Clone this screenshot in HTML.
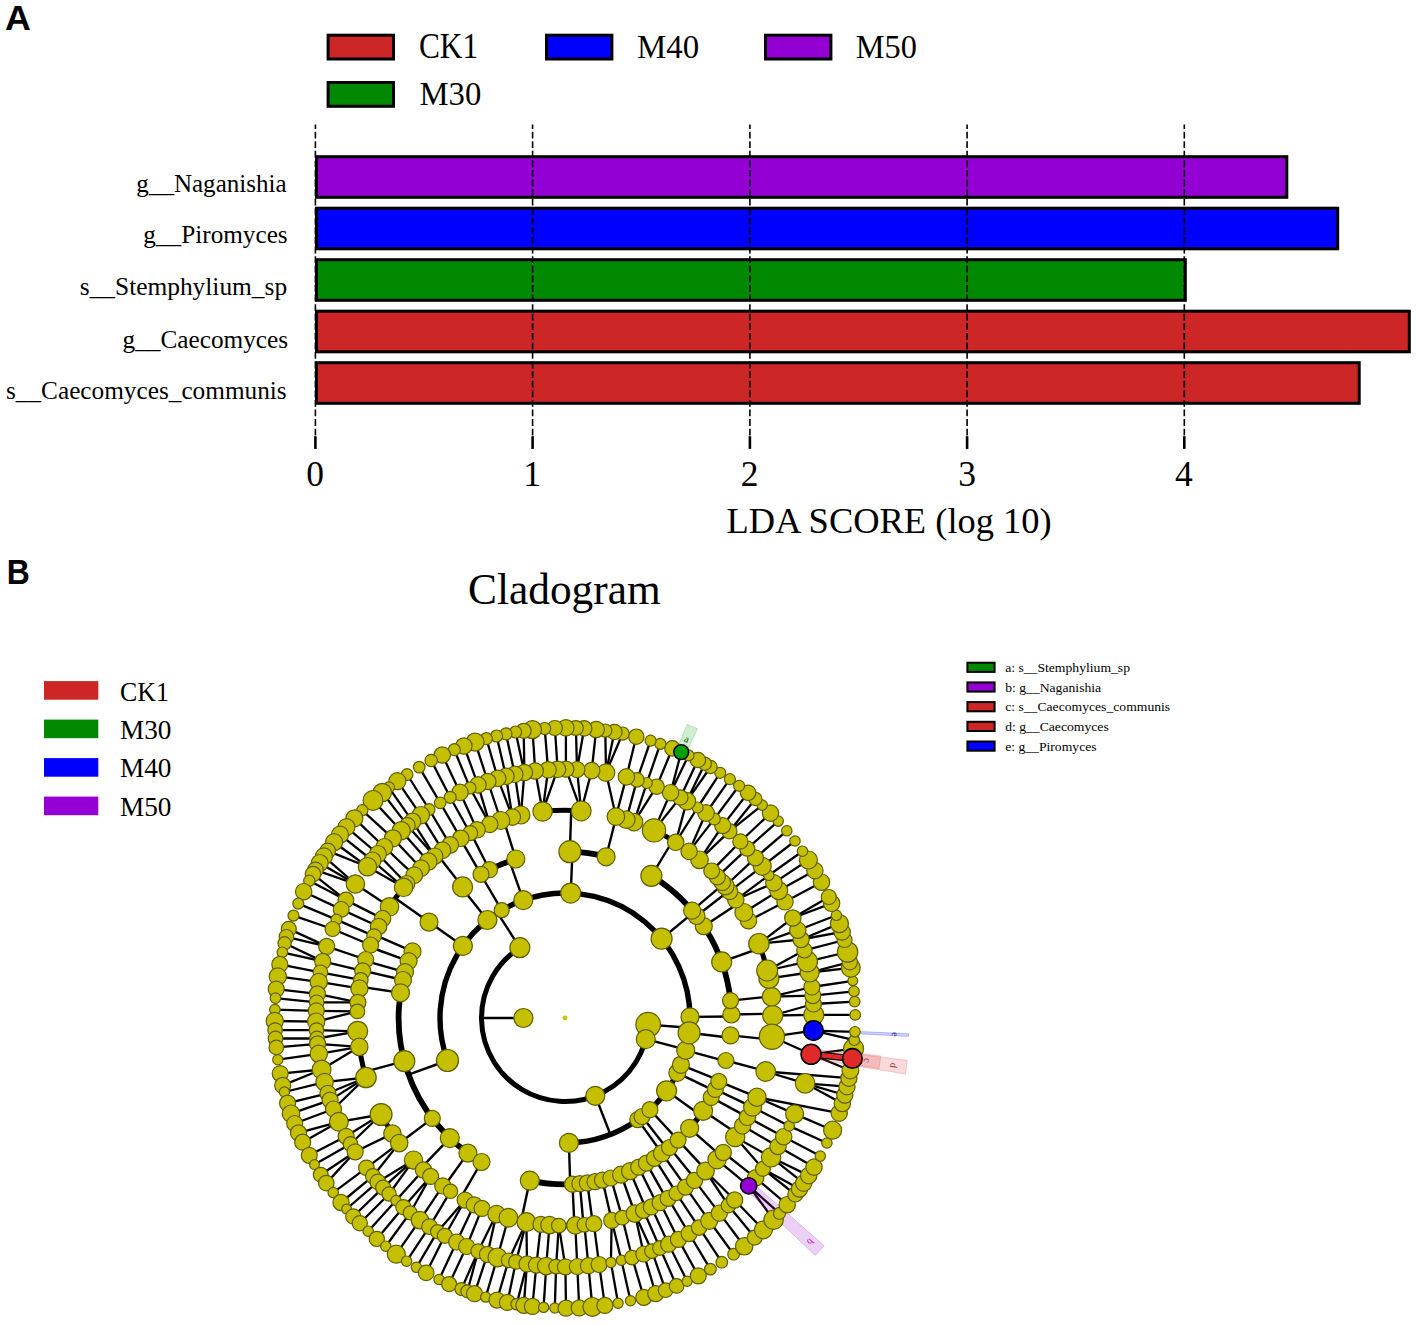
<!DOCTYPE html>
<html><head><meta charset="utf-8"><style>
html,body{margin:0;padding:0;background:#fff;}
svg{display:block;}
</style></head><body>
<svg width="1418" height="1325" viewBox="0 0 1418 1325">
<rect width="1418" height="1325" fill="#fff"/>
<rect x="328.1" y="35.2" width="65.4" height="23.8" fill="#cd2626" stroke="#000" stroke-width="3"/>
<rect x="546.5" y="35.2" width="65.4" height="23.8" fill="#0000ff" stroke="#000" stroke-width="3"/>
<rect x="765.5" y="35.2" width="65.4" height="23.8" fill="#9400d3" stroke="#000" stroke-width="3"/>
<rect x="328.1" y="82.5" width="65.4" height="23.8" fill="#008800" stroke="#000" stroke-width="3"/>
<rect x="316.5" y="156.7" width="970.3" height="40.6" fill="#9400d3" stroke="#000" stroke-width="3"/>
<rect x="316.5" y="208.2" width="1021.2" height="40.6" fill="#0000ff" stroke="#000" stroke-width="3"/>
<rect x="316.5" y="259.7" width="868.8" height="40.6" fill="#008800" stroke="#000" stroke-width="3"/>
<rect x="316.5" y="311.2" width="1092.8" height="40.6" fill="#cd2626" stroke="#000" stroke-width="3"/>
<rect x="316.5" y="362.7" width="1042.7" height="40.6" fill="#cd2626" stroke="#000" stroke-width="3"/>
<line x1="315.4" y1="124.5" x2="315.4" y2="436" stroke="#000" stroke-width="1.6" stroke-dasharray="6.8 2.78" stroke-dashoffset="2.38"/>
<line x1="315.4" y1="436.2" x2="315.4" y2="448.9" stroke="#000" stroke-width="2.6"/>
<line x1="532.6" y1="124.5" x2="532.6" y2="436" stroke="#000" stroke-width="1.6" stroke-dasharray="6.8 2.78" stroke-dashoffset="2.38"/>
<line x1="532.6" y1="436.2" x2="532.6" y2="448.9" stroke="#000" stroke-width="2.6"/>
<line x1="749.9" y1="124.5" x2="749.9" y2="436" stroke="#000" stroke-width="1.6" stroke-dasharray="6.8 2.78" stroke-dashoffset="2.38"/>
<line x1="749.9" y1="436.2" x2="749.9" y2="448.9" stroke="#000" stroke-width="2.6"/>
<line x1="967.1" y1="124.5" x2="967.1" y2="436" stroke="#000" stroke-width="1.6" stroke-dasharray="6.8 2.78" stroke-dashoffset="2.38"/>
<line x1="967.1" y1="436.2" x2="967.1" y2="448.9" stroke="#000" stroke-width="2.6"/>
<line x1="1184.3" y1="124.5" x2="1184.3" y2="436" stroke="#000" stroke-width="1.6" stroke-dasharray="6.8 2.78" stroke-dashoffset="2.38"/>
<line x1="1184.3" y1="436.2" x2="1184.3" y2="448.9" stroke="#000" stroke-width="2.6"/>
<rect x="44" y="681.1" width="54.3" height="18.6" fill="#cd2626"/>
<rect x="44" y="719.6" width="54.3" height="18.6" fill="#008800"/>
<rect x="44" y="758.1" width="54.3" height="18.6" fill="#0000ff"/>
<rect x="44" y="796.6" width="54.3" height="18.6" fill="#9400d3"/>
<rect x="967.4" y="662.7" width="27.2" height="9.2" fill="#008800" stroke="#000" stroke-width="2.0"/>
<rect x="967.4" y="682.4" width="27.2" height="9.2" fill="#9400d3" stroke="#000" stroke-width="2.0"/>
<rect x="967.4" y="702.1" width="27.2" height="9.2" fill="#cd2626" stroke="#000" stroke-width="2.0"/>
<rect x="967.4" y="721.8" width="27.2" height="9.2" fill="#cd2626" stroke="#000" stroke-width="2.0"/>
<rect x="967.4" y="741.5" width="27.2" height="9.2" fill="#0000ff" stroke="#000" stroke-width="2.0"/>
<text x="4.99" y="30.3" font-family='"Liberation Sans", sans-serif' font-weight="bold" font-size="35.5" textLength="25.86" lengthAdjust="spacingAndGlyphs">A</text>
<text x="418.96" y="58.0" font-family='"Liberation Serif", serif' font-weight="normal" font-size="34.9" textLength="59.22" lengthAdjust="spacingAndGlyphs">CK1</text>
<text x="637.05" y="58.0" font-family='"Liberation Serif", serif' font-weight="normal" font-size="34.6" textLength="62.11" lengthAdjust="spacingAndGlyphs">M40</text>
<text x="855.84" y="58.0" font-family='"Liberation Serif", serif' font-weight="normal" font-size="34.6" textLength="61.14" lengthAdjust="spacingAndGlyphs">M50</text>
<text x="419.47" y="105.1" font-family='"Liberation Serif", serif' font-weight="normal" font-size="34.6" textLength="61.80" lengthAdjust="spacingAndGlyphs">M30</text>
<text x="136.39" y="191.7" font-family='"Liberation Serif", serif' font-weight="normal" font-size="24.8" textLength="150.16" lengthAdjust="spacingAndGlyphs">g__Naganishia</text>
<text x="143.38" y="243.2" font-family='"Liberation Serif", serif' font-weight="normal" font-size="24.8" textLength="144.32" lengthAdjust="spacingAndGlyphs">g__Piromyces</text>
<text x="79.76" y="295.2" font-family='"Liberation Serif", serif' font-weight="normal" font-size="24.8" textLength="207.39" lengthAdjust="spacingAndGlyphs">s__Stemphylium_sp</text>
<text x="122.59" y="347.5" font-family='"Liberation Serif", serif' font-weight="normal" font-size="24.8" textLength="165.53" lengthAdjust="spacingAndGlyphs">g__Caecomyces</text>
<text x="5.98" y="398.9" font-family='"Liberation Serif", serif' font-weight="normal" font-size="24.8" textLength="280.70" lengthAdjust="spacingAndGlyphs">s__Caecomyces_communis</text>
<text x="306.30" y="485.7" font-family='"Liberation Serif", serif' font-weight="normal" font-size="35.5" textLength="17.75" lengthAdjust="spacingAndGlyphs">0</text>
<text x="523.20" y="485.7" font-family='"Liberation Serif", serif' font-weight="normal" font-size="35.5" textLength="17.75" lengthAdjust="spacingAndGlyphs">1</text>
<text x="740.80" y="485.7" font-family='"Liberation Serif", serif' font-weight="normal" font-size="35.5" textLength="17.75" lengthAdjust="spacingAndGlyphs">2</text>
<text x="958.20" y="485.7" font-family='"Liberation Serif", serif' font-weight="normal" font-size="35.5" textLength="17.75" lengthAdjust="spacingAndGlyphs">3</text>
<text x="1175.10" y="485.7" font-family='"Liberation Serif", serif' font-weight="normal" font-size="35.5" textLength="17.75" lengthAdjust="spacingAndGlyphs">4</text>
<text x="726.59" y="533.0" font-family='"Liberation Serif", serif' font-weight="normal" font-size="35.8" textLength="325.14" lengthAdjust="spacingAndGlyphs">LDA SCORE (log 10)</text>
<text x="6.73" y="583.5" font-family='"Liberation Sans", sans-serif' font-weight="bold" font-size="35.5" textLength="23.02" lengthAdjust="spacingAndGlyphs">B</text>
<text x="468.05" y="603.7" font-family='"Liberation Serif", serif' font-weight="normal" font-size="44.7" textLength="192.60" lengthAdjust="spacingAndGlyphs">Cladogram</text>
<text x="120.08" y="700.8" font-family='"Liberation Serif", serif' font-weight="normal" font-size="28.2" textLength="48.77" lengthAdjust="spacingAndGlyphs">CK1</text>
<text x="120.03" y="738.5" font-family='"Liberation Serif", serif' font-weight="normal" font-size="28.2" textLength="51.49" lengthAdjust="spacingAndGlyphs">M30</text>
<text x="120.03" y="777.1" font-family='"Liberation Serif", serif' font-weight="normal" font-size="28.2" textLength="51.49" lengthAdjust="spacingAndGlyphs">M40</text>
<text x="120.03" y="815.7" font-family='"Liberation Serif", serif' font-weight="normal" font-size="28.2" textLength="51.49" lengthAdjust="spacingAndGlyphs">M50</text>
<text x="1005.17" y="671.9" font-family='"Liberation Serif", serif' font-weight="normal" font-size="12.8" textLength="124.82" lengthAdjust="spacingAndGlyphs">a: s__Stemphylium_sp</text>
<text x="1005.17" y="691.6" font-family='"Liberation Serif", serif' font-weight="normal" font-size="12.8" textLength="95.98" lengthAdjust="spacingAndGlyphs">b: g__Naganishia</text>
<text x="1005.17" y="711.3" font-family='"Liberation Serif", serif' font-weight="normal" font-size="12.8" textLength="165.03" lengthAdjust="spacingAndGlyphs">c: s__Caecomyces_communis</text>
<text x="1005.17" y="731.0" font-family='"Liberation Serif", serif' font-weight="normal" font-size="12.8" textLength="103.55" lengthAdjust="spacingAndGlyphs">d: g__Caecomyces</text>
<text x="1005.17" y="750.7" font-family='"Liberation Serif", serif' font-weight="normal" font-size="12.8" textLength="91.43" lengthAdjust="spacingAndGlyphs">e: g__Piromyces</text>
<g id="clad">
<g stroke="#000" fill="none" stroke-linecap="butt">
<path d="M519.89,947.73A83.50,83.50 0 1 0 648.24,1024.55" stroke-width="5.0"/>
<path d="M690.00,1016.91A125.00,125.00 0 1 0 447.46,1060.55" stroke-width="5.4"/>
<path d="M568.93,1142.94A125.00,125.00 0 0 0 680.90,1064.83" stroke-width="5.4"/>
<path d="M689.12,1032.80A125.00,125.00 0 0 0 689.61,1027.81" stroke-width="5.4"/>
<path d="M685.74,1050.35A125.00,125.00 0 0 0 685.91,1049.72" stroke-width="5.4"/>
<path d="M731.39,1016.55A166.40,166.40 0 0 0 731.36,1014.52" stroke-width="5.8"/>
<path d="M730.49,1000.61A166.40,166.40 0 0 0 651.45,875.82" stroke-width="5.8"/>
<path d="M606.10,856.76A166.40,166.40 0 0 0 569.94,851.67" stroke-width="5.8"/>
<path d="M515.79,859.04A166.40,166.40 0 0 0 489.46,869.74" stroke-width="5.8"/>
<path d="M481.05,874.33A166.40,166.40 0 0 0 480.80,874.48" stroke-width="5.8"/>
<path d="M462.55,886.88A166.40,166.40 0 0 0 461.64,887.59" stroke-width="5.8"/>
<path d="M412.52,951.38A166.40,166.40 0 0 0 481.55,1161.96" stroke-width="5.8"/>
<path d="M529.84,1180.64A166.40,166.40 0 0 0 646.43,1163.11" stroke-width="5.8"/>
<path d="M654.41,1158.34A166.40,166.40 0 0 0 661.87,1153.30" stroke-width="5.8"/>
<path d="M667.45,1149.12A166.40,166.40 0 0 0 669.49,1147.50" stroke-width="5.8"/>
<path d="M689.63,1128.26A166.40,166.40 0 0 0 703.11,1110.81" stroke-width="5.8"/>
<path d="M711.24,1097.40A166.40,166.40 0 0 0 715.31,1089.37" stroke-width="5.8"/>
<path d="M718.84,1081.41A166.40,166.40 0 0 0 719.28,1080.33" stroke-width="5.8"/>
<path d="M725.73,1061.07A166.40,166.40 0 0 0 725.88,1060.51" stroke-width="5.8"/>
<path d="M730.23,1037.70A166.40,166.40 0 0 0 730.49,1035.39" stroke-width="5.8"/>
<path d="M772.68,1015.47A207.70,207.70 0 0 0 772.65,1013.65" stroke-width="5.0"/>
<path d="M771.60,996.67A207.70,207.70 0 0 0 768.89,978.43" stroke-width="5.0"/>
<path d="M767.19,970.50A207.70,207.70 0 0 0 758.95,943.68" stroke-width="5.0"/>
<path d="M748.53,920.75A207.70,207.70 0 0 0 735.76,899.76" stroke-width="5.0"/>
<path d="M729.63,891.37A207.70,207.70 0 0 0 729.12,890.70" stroke-width="5.0"/>
<path d="M725.34,885.97A207.70,207.70 0 0 0 711.67,870.93" stroke-width="5.0"/>
<path d="M699.54,859.76A207.70,207.70 0 0 0 654.04,830.36" stroke-width="5.0"/>
<path d="M634.02,822.10A207.70,207.70 0 0 0 615.93,816.64" stroke-width="5.0"/>
<path d="M581.19,810.93A207.70,207.70 0 0 0 542.56,811.52" stroke-width="5.0"/>
<path d="M520.91,815.03A207.70,207.70 0 0 0 489.76,824.41" stroke-width="5.0"/>
<path d="M477.05,829.84A207.70,207.70 0 0 0 470.20,833.20" stroke-width="5.0"/>
<path d="M460.84,838.31A207.70,207.70 0 0 0 450.22,844.90" stroke-width="5.0"/>
<path d="M442.54,850.24A207.70,207.70 0 0 0 421.09,868.24" stroke-width="5.0"/>
<path d="M414.20,875.17A207.70,207.70 0 0 0 389.55,906.85" stroke-width="5.0"/>
<path d="M382.64,918.59A207.70,207.70 0 0 0 374.11,936.14" stroke-width="5.0"/>
<path d="M370.56,944.97A207.70,207.70 0 0 0 369.83,946.96" stroke-width="5.0"/>
<path d="M365.72,959.45A207.70,207.70 0 0 0 365.35,960.75" stroke-width="5.0"/>
<path d="M362.79,970.57A207.70,207.70 0 0 0 362.71,970.92" stroke-width="5.0"/>
<path d="M360.83,979.85A207.70,207.70 0 0 0 357.41,1011.37" stroke-width="5.0"/>
<path d="M357.72,1031.25A207.70,207.70 0 0 0 366.02,1077.54" stroke-width="5.0"/>
<path d="M381.09,1114.52A207.70,207.70 0 0 0 399.34,1143.29" stroke-width="5.0"/>
<path d="M413.54,1160.12A207.70,207.70 0 0 0 430.63,1176.38" stroke-width="5.0"/>
<path d="M442.79,1185.94A207.70,207.70 0 0 0 450.55,1191.32" stroke-width="5.0"/>
<path d="M460.84,1197.69A207.70,207.70 0 0 0 482.03,1208.41" stroke-width="5.0"/>
<path d="M496.46,1214.06A207.70,207.70 0 0 0 540.89,1224.30" stroke-width="5.0"/>
<path d="M549.48,1225.12A207.70,207.70 0 0 0 575.29,1225.44" stroke-width="5.0"/>
<path d="M583.46,1224.88A207.70,207.70 0 0 0 584.36,1224.80" stroke-width="5.0"/>
<path d="M592.83,1223.83A207.70,207.70 0 0 0 593.83,1223.69" stroke-width="5.0"/>
<path d="M634.79,1213.62A207.70,207.70 0 0 0 635.01,1213.54" stroke-width="5.0"/>
<path d="M643.40,1210.34A207.70,207.70 0 0 0 651.28,1206.93" stroke-width="5.0"/>
<path d="M657.03,1204.20A207.70,207.70 0 0 0 660.06,1202.67" stroke-width="5.0"/>
<path d="M666.64,1199.13A207.70,207.70 0 0 0 668.15,1198.28" stroke-width="5.0"/>
<path d="M676.34,1193.34A207.70,207.70 0 0 0 676.60,1193.17" stroke-width="5.0"/>
<path d="M685.63,1187.08A207.70,207.70 0 0 0 685.91,1186.88" stroke-width="5.0"/>
<path d="M694.46,1180.42A207.70,207.70 0 0 0 695.43,1179.64" stroke-width="5.0"/>
<path d="M705.49,1170.98A207.70,207.70 0 0 0 706.12,1170.40" stroke-width="5.0"/>
<path d="M716.96,1159.59A207.70,207.70 0 0 0 723.28,1152.49" stroke-width="5.0"/>
<path d="M735.21,1137.02A207.70,207.70 0 0 0 742.55,1125.77" stroke-width="5.0"/>
<path d="M747.44,1117.27A207.70,207.70 0 0 0 747.53,1117.11" stroke-width="5.0"/>
<path d="M765.68,1071.54A207.70,207.70 0 0 0 765.81,1071.06" stroke-width="5.0"/>
<path d="M771.56,1039.71A207.70,207.70 0 0 0 771.86,1036.70" stroke-width="5.0"/>
<line x1="523.4" y1="1018.0" x2="481.5" y2="1018.0" stroke-width="2.4"/>
<line x1="519.9" y1="947.7" x2="497.5" y2="912.8" stroke-width="2.4"/>
<line x1="595.3" y1="1095.8" x2="610.4" y2="1134.5" stroke-width="2.4"/>
<line x1="648.2" y1="1024.6" x2="689.6" y2="1027.8" stroke-width="2.4"/>
<line x1="645.8" y1="1039.2" x2="685.9" y2="1049.7" stroke-width="2.4"/>
<line x1="690.0" y1="1016.9" x2="731.4" y2="1016.5" stroke-width="2.4"/>
<line x1="661.6" y1="938.7" x2="693.6" y2="912.4" stroke-width="2.4"/>
<line x1="570.7" y1="893.1" x2="572.5" y2="851.8" stroke-width="2.4"/>
<line x1="523.3" y1="900.2" x2="509.5" y2="861.1" stroke-width="2.4"/>
<line x1="501.7" y1="910.2" x2="480.8" y2="874.5" stroke-width="2.4"/>
<line x1="487.4" y1="920.0" x2="461.6" y2="887.6" stroke-width="2.4"/>
<line x1="462.9" y1="945.9" x2="429.0" y2="922.1" stroke-width="2.4"/>
<line x1="447.5" y1="1060.5" x2="408.5" y2="1074.6" stroke-width="2.4"/>
<line x1="568.9" y1="1142.9" x2="570.2" y2="1184.3" stroke-width="2.4"/>
<line x1="637.8" y1="1119.6" x2="661.9" y2="1153.3" stroke-width="2.4"/>
<line x1="642.0" y1="1116.5" x2="667.4" y2="1149.1" stroke-width="2.4"/>
<line x1="649.9" y1="1109.7" x2="678.1" y2="1140.1" stroke-width="2.4"/>
<line x1="666.6" y1="1090.8" x2="700.3" y2="1114.9" stroke-width="2.4"/>
<line x1="677.3" y1="1072.8" x2="714.6" y2="1090.9" stroke-width="2.4"/>
<line x1="680.9" y1="1064.8" x2="719.3" y2="1080.3" stroke-width="2.4"/>
<line x1="685.7" y1="1050.4" x2="725.7" y2="1061.1" stroke-width="2.4"/>
<line x1="689.1" y1="1032.8" x2="730.2" y2="1037.7" stroke-width="2.4"/>
<line x1="731.4" y1="1014.5" x2="772.7" y2="1013.7" stroke-width="2.4"/>
<line x1="730.5" y1="1000.6" x2="771.6" y2="996.3" stroke-width="2.4"/>
<line x1="721.7" y1="961.9" x2="760.5" y2="948.0" stroke-width="2.4"/>
<line x1="703.8" y1="926.2" x2="738.2" y2="903.4" stroke-width="2.4"/>
<line x1="696.5" y1="916.0" x2="729.1" y2="890.7" stroke-width="2.4"/>
<line x1="692.1" y1="910.6" x2="723.6" y2="883.9" stroke-width="2.4"/>
<line x1="651.4" y1="875.8" x2="672.9" y2="840.5" stroke-width="2.4"/>
<line x1="606.1" y1="856.8" x2="616.3" y2="816.7" stroke-width="2.4"/>
<line x1="569.9" y1="851.7" x2="571.2" y2="810.4" stroke-width="2.4"/>
<line x1="515.8" y1="859.0" x2="503.6" y2="819.6" stroke-width="2.4"/>
<line x1="489.5" y1="869.7" x2="470.7" y2="832.9" stroke-width="2.4"/>
<line x1="481.0" y1="874.3" x2="460.2" y2="838.7" stroke-width="2.4"/>
<line x1="462.6" y1="886.9" x2="437.1" y2="854.3" stroke-width="2.4"/>
<line x1="429.0" y1="922.1" x2="395.3" y2="898.3" stroke-width="2.4"/>
<line x1="412.5" y1="951.4" x2="374.7" y2="934.8" stroke-width="2.4"/>
<line x1="408.6" y1="961.1" x2="369.8" y2="947.0" stroke-width="2.4"/>
<line x1="405.0" y1="972.1" x2="365.3" y2="960.8" stroke-width="2.4"/>
<line x1="403.0" y1="980.0" x2="362.8" y2="970.6" stroke-width="2.4"/>
<line x1="400.5" y1="992.8" x2="359.7" y2="986.6" stroke-width="2.4"/>
<line x1="404.3" y1="1061.1" x2="364.4" y2="1071.8" stroke-width="2.4"/>
<line x1="432.3" y1="1118.4" x2="399.3" y2="1143.3" stroke-width="2.4"/>
<line x1="449.8" y1="1138.1" x2="421.2" y2="1167.9" stroke-width="2.4"/>
<line x1="467.9" y1="1153.1" x2="443.8" y2="1186.7" stroke-width="2.4"/>
<line x1="481.5" y1="1162.0" x2="460.8" y2="1197.7" stroke-width="2.4"/>
<line x1="529.8" y1="1180.6" x2="521.1" y2="1221.0" stroke-width="2.4"/>
<line x1="572.5" y1="1184.2" x2="574.4" y2="1225.5" stroke-width="2.4"/>
<line x1="579.8" y1="1183.7" x2="583.5" y2="1224.9" stroke-width="2.4"/>
<line x1="587.3" y1="1182.9" x2="592.8" y2="1223.8" stroke-width="2.4"/>
<line x1="602.4" y1="1180.1" x2="611.7" y2="1220.4" stroke-width="2.4"/>
<line x1="610.9" y1="1178.0" x2="622.2" y2="1217.7" stroke-width="2.4"/>
<line x1="621.1" y1="1174.7" x2="635.0" y2="1213.5" stroke-width="2.4"/>
<line x1="630.0" y1="1171.2" x2="646.2" y2="1209.2" stroke-width="2.4"/>
<line x1="638.7" y1="1167.2" x2="657.0" y2="1204.2" stroke-width="2.4"/>
<line x1="646.4" y1="1163.1" x2="666.6" y2="1199.1" stroke-width="2.4"/>
<line x1="654.4" y1="1158.3" x2="676.6" y2="1193.2" stroke-width="2.4"/>
<line x1="661.9" y1="1153.3" x2="685.9" y2="1186.9" stroke-width="2.4"/>
<line x1="669.5" y1="1147.5" x2="695.4" y2="1179.6" stroke-width="2.4"/>
<line x1="678.1" y1="1140.1" x2="706.1" y2="1170.4" stroke-width="2.4"/>
<line x1="689.6" y1="1128.3" x2="720.6" y2="1155.6" stroke-width="2.4"/>
<line x1="703.1" y1="1110.8" x2="737.4" y2="1133.8" stroke-width="2.4"/>
<line x1="711.2" y1="1097.4" x2="747.5" y2="1117.1" stroke-width="2.4"/>
<line x1="715.3" y1="1089.4" x2="752.6" y2="1107.1" stroke-width="2.4"/>
<line x1="718.8" y1="1081.4" x2="757.0" y2="1097.1" stroke-width="2.4"/>
<line x1="725.9" y1="1060.5" x2="765.8" y2="1071.1" stroke-width="2.4"/>
<line x1="730.5" y1="1035.4" x2="771.6" y2="1039.7" stroke-width="2.4"/>
<line x1="772.7" y1="1015.5" x2="813.8" y2="1014.9" stroke-width="2.3"/>
<line x1="772.7" y1="1015.5" x2="813.4" y2="1004.0" stroke-width="2.3"/>
<line x1="771.6" y1="996.7" x2="812.8" y2="995.6" stroke-width="2.3"/>
<line x1="771.6" y1="996.7" x2="811.9" y2="987.0" stroke-width="2.3"/>
<line x1="768.9" y1="978.4" x2="809.6" y2="972.5" stroke-width="2.3"/>
<line x1="767.2" y1="970.5" x2="807.3" y2="961.6" stroke-width="2.3"/>
<line x1="767.2" y1="970.5" x2="804.4" y2="950.3" stroke-width="2.3"/>
<line x1="758.9" y1="943.7" x2="801.1" y2="939.5" stroke-width="2.3"/>
<line x1="758.9" y1="943.7" x2="797.8" y2="930.2" stroke-width="2.3"/>
<line x1="758.9" y1="943.7" x2="792.8" y2="918.0" stroke-width="2.3"/>
<line x1="748.5" y1="920.7" x2="785.0" y2="901.8" stroke-width="2.3"/>
<line x1="743.9" y1="912.5" x2="778.7" y2="890.6" stroke-width="2.3"/>
<line x1="735.8" y1="899.8" x2="773.9" y2="882.9" stroke-width="2.3"/>
<line x1="735.8" y1="899.8" x2="768.8" y2="875.3" stroke-width="2.3"/>
<line x1="729.6" y1="891.4" x2="762.2" y2="866.3" stroke-width="2.3"/>
<line x1="725.3" y1="886.0" x2="755.4" y2="857.8" stroke-width="2.3"/>
<line x1="717.3" y1="876.8" x2="747.2" y2="848.6" stroke-width="2.3"/>
<line x1="711.7" y1="870.9" x2="740.4" y2="841.5" stroke-width="2.3"/>
<line x1="699.5" y1="859.8" x2="729.4" y2="831.3" stroke-width="2.3"/>
<line x1="699.5" y1="859.8" x2="722.7" y2="825.6" stroke-width="2.3"/>
<line x1="689.1" y1="851.4" x2="714.3" y2="818.9" stroke-width="2.3"/>
<line x1="689.1" y1="851.4" x2="706.0" y2="813.0" stroke-width="2.3"/>
<line x1="675.7" y1="842.3" x2="697.6" y2="807.5" stroke-width="2.3"/>
<line x1="675.7" y1="842.3" x2="686.8" y2="801.1" stroke-width="2.3"/>
<line x1="654.0" y1="830.4" x2="680.3" y2="797.5" stroke-width="2.3"/>
<line x1="654.0" y1="830.4" x2="670.6" y2="792.7" stroke-width="2.3"/>
<line x1="634.0" y1="822.1" x2="656.6" y2="786.7" stroke-width="2.3"/>
<line x1="634.0" y1="822.1" x2="646.8" y2="783.0" stroke-width="2.3"/>
<line x1="626.3" y1="819.6" x2="637.0" y2="779.9" stroke-width="2.3"/>
<line x1="615.9" y1="816.6" x2="626.4" y2="776.9" stroke-width="2.3"/>
<line x1="615.9" y1="816.6" x2="606.0" y2="772.6" stroke-width="2.3"/>
<line x1="581.2" y1="810.9" x2="591.7" y2="770.6" stroke-width="2.3"/>
<line x1="581.2" y1="810.9" x2="577.0" y2="769.5" stroke-width="2.3"/>
<line x1="581.2" y1="810.9" x2="565.9" y2="769.2" stroke-width="2.3"/>
<line x1="542.6" y1="811.5" x2="557.6" y2="769.3" stroke-width="2.3"/>
<line x1="542.6" y1="811.5" x2="548.1" y2="769.8" stroke-width="2.3"/>
<line x1="542.6" y1="811.5" x2="535.2" y2="771.0" stroke-width="2.3"/>
<line x1="520.9" y1="815.0" x2="524.4" y2="772.5" stroke-width="2.3"/>
<line x1="520.9" y1="815.0" x2="514.8" y2="774.3" stroke-width="2.3"/>
<line x1="512.4" y1="817.1" x2="506.0" y2="776.3" stroke-width="2.3"/>
<line x1="512.4" y1="817.1" x2="497.8" y2="778.4" stroke-width="2.3"/>
<line x1="500.8" y1="820.5" x2="487.8" y2="781.5" stroke-width="2.3"/>
<line x1="489.8" y1="824.4" x2="478.0" y2="784.9" stroke-width="2.3"/>
<line x1="489.8" y1="824.4" x2="470.0" y2="788.0" stroke-width="2.3"/>
<line x1="477.1" y1="829.8" x2="460.0" y2="792.4" stroke-width="2.3"/>
<line x1="470.2" y1="833.2" x2="450.2" y2="797.3" stroke-width="2.3"/>
<line x1="460.8" y1="838.3" x2="440.2" y2="802.8" stroke-width="2.3"/>
<line x1="450.2" y1="844.9" x2="429.2" y2="809.5" stroke-width="2.3"/>
<line x1="442.5" y1="850.2" x2="420.8" y2="815.2" stroke-width="2.3"/>
<line x1="434.7" y1="856.2" x2="412.5" y2="821.4" stroke-width="2.3"/>
<line x1="434.7" y1="856.2" x2="407.4" y2="825.4" stroke-width="2.3"/>
<line x1="428.3" y1="861.6" x2="401.2" y2="830.7" stroke-width="2.3"/>
<line x1="421.1" y1="868.2" x2="392.9" y2="838.3" stroke-width="2.3"/>
<line x1="414.2" y1="875.2" x2="384.3" y2="847.0" stroke-width="2.3"/>
<line x1="406.6" y1="883.7" x2="377.9" y2="854.0" stroke-width="2.3"/>
<line x1="403.6" y1="887.3" x2="372.4" y2="860.5" stroke-width="2.3"/>
<line x1="403.6" y1="887.3" x2="367.5" y2="866.7" stroke-width="2.3"/>
<line x1="389.5" y1="906.8" x2="355.4" y2="884.0" stroke-width="2.3"/>
<line x1="382.6" y1="918.6" x2="345.9" y2="900.1" stroke-width="2.3"/>
<line x1="378.6" y1="926.5" x2="341.2" y2="909.4" stroke-width="2.3"/>
<line x1="374.1" y1="936.1" x2="336.5" y2="919.6" stroke-width="2.3"/>
<line x1="370.6" y1="945.0" x2="332.6" y2="929.0" stroke-width="2.3"/>
<line x1="365.7" y1="959.5" x2="326.7" y2="946.4" stroke-width="2.3"/>
<line x1="362.7" y1="970.9" x2="322.7" y2="961.4" stroke-width="2.3"/>
<line x1="360.8" y1="979.9" x2="320.4" y2="972.3" stroke-width="2.3"/>
<line x1="359.4" y1="988.4" x2="318.8" y2="981.9" stroke-width="2.3"/>
<line x1="357.9" y1="1002.3" x2="317.4" y2="993.9" stroke-width="2.3"/>
<line x1="357.9" y1="1002.3" x2="316.7" y2="1002.3" stroke-width="2.3"/>
<line x1="357.4" y1="1011.4" x2="316.3" y2="1010.8" stroke-width="2.3"/>
<line x1="357.4" y1="1011.4" x2="316.2" y2="1021.6" stroke-width="2.3"/>
<line x1="357.7" y1="1031.3" x2="316.5" y2="1030.1" stroke-width="2.3"/>
<line x1="357.7" y1="1031.3" x2="317.0" y2="1038.5" stroke-width="2.3"/>
<line x1="359.3" y1="1046.8" x2="317.6" y2="1043.9" stroke-width="2.3"/>
<line x1="359.3" y1="1046.8" x2="318.8" y2="1053.8" stroke-width="2.3"/>
<line x1="359.3" y1="1046.8" x2="321.6" y2="1069.5" stroke-width="2.3"/>
<line x1="366.0" y1="1077.5" x2="324.6" y2="1082.1" stroke-width="2.3"/>
<line x1="366.0" y1="1077.5" x2="327.9" y2="1093.3" stroke-width="2.3"/>
<line x1="366.0" y1="1077.5" x2="330.1" y2="1100.1" stroke-width="2.3"/>
<line x1="366.0" y1="1077.5" x2="333.5" y2="1109.0" stroke-width="2.3"/>
<line x1="381.1" y1="1114.5" x2="338.9" y2="1121.8" stroke-width="2.3"/>
<line x1="381.1" y1="1114.5" x2="346.1" y2="1136.3" stroke-width="2.3"/>
<line x1="381.1" y1="1114.5" x2="350.5" y2="1144.0" stroke-width="2.3"/>
<line x1="392.4" y1="1133.6" x2="355.2" y2="1151.8" stroke-width="2.3"/>
<line x1="399.2" y1="1143.1" x2="366.4" y2="1167.9" stroke-width="2.3"/>
<line x1="399.2" y1="1143.1" x2="373.0" y2="1176.2" stroke-width="2.3"/>
<line x1="413.5" y1="1160.1" x2="377.8" y2="1181.9" stroke-width="2.3"/>
<line x1="413.5" y1="1160.1" x2="383.1" y2="1187.7" stroke-width="2.3"/>
<line x1="413.5" y1="1160.1" x2="389.1" y2="1194.0" stroke-width="2.3"/>
<line x1="423.4" y1="1170.0" x2="396.0" y2="1200.6" stroke-width="2.3"/>
<line x1="430.6" y1="1176.4" x2="403.4" y2="1207.2" stroke-width="2.3"/>
<line x1="430.6" y1="1176.4" x2="410.2" y2="1212.8" stroke-width="2.3"/>
<line x1="442.8" y1="1185.9" x2="419.9" y2="1220.1" stroke-width="2.3"/>
<line x1="450.5" y1="1191.3" x2="429.5" y2="1226.7" stroke-width="2.3"/>
<line x1="465.1" y1="1200.1" x2="437.5" y2="1231.7" stroke-width="2.3"/>
<line x1="465.1" y1="1200.1" x2="444.8" y2="1235.8" stroke-width="2.3"/>
<line x1="474.2" y1="1204.8" x2="456.6" y2="1242.0" stroke-width="2.3"/>
<line x1="482.0" y1="1208.4" x2="466.6" y2="1246.5" stroke-width="2.3"/>
<line x1="496.5" y1="1214.1" x2="478.2" y2="1251.2" stroke-width="2.3"/>
<line x1="496.5" y1="1214.1" x2="487.4" y2="1254.4" stroke-width="2.3"/>
<line x1="508.4" y1="1217.8" x2="497.4" y2="1257.4" stroke-width="2.3"/>
<line x1="526.4" y1="1222.1" x2="508.6" y2="1260.3" stroke-width="2.3"/>
<line x1="526.4" y1="1222.1" x2="515.9" y2="1261.9" stroke-width="2.3"/>
<line x1="526.4" y1="1222.1" x2="527.0" y2="1263.9" stroke-width="2.3"/>
<line x1="540.9" y1="1224.3" x2="536.4" y2="1265.1" stroke-width="2.3"/>
<line x1="549.5" y1="1225.1" x2="546.2" y2="1266.1" stroke-width="2.3"/>
<line x1="558.8" y1="1225.6" x2="556.1" y2="1266.6" stroke-width="2.3"/>
<line x1="558.8" y1="1225.6" x2="565.4" y2="1266.8" stroke-width="2.3"/>
<line x1="575.3" y1="1225.4" x2="577.3" y2="1266.5" stroke-width="2.3"/>
<line x1="584.4" y1="1224.8" x2="588.4" y2="1265.7" stroke-width="2.3"/>
<line x1="593.8" y1="1223.7" x2="599.1" y2="1264.5" stroke-width="2.3"/>
<line x1="611.7" y1="1220.4" x2="610.9" y2="1262.5" stroke-width="2.3"/>
<line x1="611.7" y1="1220.4" x2="621.4" y2="1260.3" stroke-width="2.3"/>
<line x1="622.3" y1="1217.7" x2="632.1" y2="1257.6" stroke-width="2.3"/>
<line x1="634.8" y1="1213.6" x2="643.8" y2="1254.0" stroke-width="2.3"/>
<line x1="634.8" y1="1213.6" x2="651.9" y2="1251.1" stroke-width="2.3"/>
<line x1="643.4" y1="1210.3" x2="659.9" y2="1248.0" stroke-width="2.3"/>
<line x1="651.3" y1="1206.9" x2="668.6" y2="1244.2" stroke-width="2.3"/>
<line x1="660.1" y1="1202.7" x2="678.4" y2="1239.4" stroke-width="2.3"/>
<line x1="668.1" y1="1198.3" x2="689.1" y2="1233.6" stroke-width="2.3"/>
<line x1="676.3" y1="1193.3" x2="699.1" y2="1227.6" stroke-width="2.3"/>
<line x1="685.6" y1="1187.1" x2="709.2" y2="1220.8" stroke-width="2.3"/>
<line x1="694.5" y1="1180.4" x2="719.4" y2="1213.1" stroke-width="2.3"/>
<line x1="705.5" y1="1171.0" x2="728.5" y2="1205.5" stroke-width="2.3"/>
<line x1="705.5" y1="1171.0" x2="734.6" y2="1200.0" stroke-width="2.3"/>
<line x1="717.0" y1="1159.6" x2="748.7" y2="1185.8" stroke-width="2.3"/>
<line x1="723.3" y1="1152.5" x2="755.6" y2="1177.9" stroke-width="2.3"/>
<line x1="735.2" y1="1137.0" x2="762.9" y2="1168.8" stroke-width="2.3"/>
<line x1="735.2" y1="1137.0" x2="771.1" y2="1157.3" stroke-width="2.3"/>
<line x1="742.6" y1="1125.8" x2="778.0" y2="1146.5" stroke-width="2.3"/>
<line x1="747.4" y1="1117.3" x2="783.7" y2="1136.7" stroke-width="2.3"/>
<line x1="752.6" y1="1107.2" x2="789.2" y2="1125.9" stroke-width="2.3"/>
<line x1="757.0" y1="1097.3" x2="794.6" y2="1113.9" stroke-width="2.3"/>
<line x1="765.7" y1="1071.5" x2="805.1" y2="1083.3" stroke-width="2.3"/>
<line x1="771.9" y1="1036.7" x2="811.1" y2="1054.3" stroke-width="2.3"/>
<line x1="771.9" y1="1036.7" x2="813.5" y2="1030.6" stroke-width="2.3"/>
<line x1="813.8" y1="1014.9" x2="855.2" y2="1014.9" stroke-width="2.3"/>
<line x1="813.4" y1="1004.0" x2="854.7" y2="1001.6" stroke-width="2.3"/>
<line x1="812.8" y1="995.6" x2="854.0" y2="991.3" stroke-width="2.3"/>
<line x1="811.9" y1="987.0" x2="852.8" y2="980.8" stroke-width="2.3"/>
<line x1="809.6" y1="972.5" x2="850.8" y2="967.8" stroke-width="2.3"/>
<line x1="809.6" y1="972.5" x2="849.8" y2="962.2" stroke-width="2.3"/>
<line x1="807.3" y1="961.6" x2="847.6" y2="952.0" stroke-width="2.3"/>
<line x1="804.4" y1="950.3" x2="844.5" y2="940.0" stroke-width="2.3"/>
<line x1="801.1" y1="939.5" x2="842.1" y2="931.9" stroke-width="2.3"/>
<line x1="801.1" y1="939.5" x2="839.4" y2="923.6" stroke-width="2.3"/>
<line x1="797.8" y1="930.2" x2="836.4" y2="915.3" stroke-width="2.3"/>
<line x1="792.8" y1="918.0" x2="831.6" y2="903.3" stroke-width="2.3"/>
<line x1="792.8" y1="918.0" x2="828.8" y2="897.0" stroke-width="2.3"/>
<line x1="785.0" y1="901.8" x2="821.5" y2="882.2" stroke-width="2.3"/>
<line x1="778.7" y1="890.6" x2="814.9" y2="870.6" stroke-width="2.3"/>
<line x1="773.9" y1="882.9" x2="808.4" y2="860.0" stroke-width="2.3"/>
<line x1="768.8" y1="875.3" x2="802.5" y2="851.2" stroke-width="2.3"/>
<line x1="762.2" y1="866.3" x2="795.0" y2="841.0" stroke-width="2.3"/>
<line x1="755.4" y1="857.8" x2="786.8" y2="830.8" stroke-width="2.3"/>
<line x1="747.2" y1="848.6" x2="778.2" y2="821.1" stroke-width="2.3"/>
<line x1="740.4" y1="841.5" x2="770.5" y2="813.1" stroke-width="2.3"/>
<line x1="729.4" y1="831.3" x2="762.2" y2="805.1" stroke-width="2.3"/>
<line x1="729.4" y1="831.3" x2="755.4" y2="799.0" stroke-width="2.3"/>
<line x1="722.7" y1="825.6" x2="748.1" y2="792.8" stroke-width="2.3"/>
<line x1="714.3" y1="818.9" x2="739.1" y2="785.8" stroke-width="2.3"/>
<line x1="706.0" y1="813.0" x2="729.9" y2="779.2" stroke-width="2.3"/>
<line x1="697.6" y1="807.5" x2="720.2" y2="772.8" stroke-width="2.3"/>
<line x1="686.8" y1="801.1" x2="710.6" y2="767.0" stroke-width="2.3"/>
<line x1="686.8" y1="801.1" x2="704.8" y2="763.7" stroke-width="2.3"/>
<line x1="680.3" y1="797.5" x2="697.9" y2="760.0" stroke-width="2.3"/>
<line x1="670.6" y1="792.7" x2="688.5" y2="755.4" stroke-width="2.3"/>
<line x1="670.6" y1="792.7" x2="681.2" y2="752.1" stroke-width="2.3"/>
<line x1="656.6" y1="786.7" x2="672.4" y2="748.4" stroke-width="2.3"/>
<line x1="646.8" y1="783.0" x2="660.3" y2="743.9" stroke-width="2.3"/>
<line x1="637.0" y1="779.9" x2="650.6" y2="740.7" stroke-width="2.3"/>
<line x1="626.4" y1="776.9" x2="636.3" y2="736.7" stroke-width="2.3"/>
<line x1="606.0" y1="772.6" x2="622.6" y2="733.6" stroke-width="2.3"/>
<line x1="606.0" y1="772.6" x2="614.4" y2="732.0" stroke-width="2.3"/>
<line x1="606.0" y1="772.6" x2="605.3" y2="730.6" stroke-width="2.3"/>
<line x1="591.7" y1="770.6" x2="596.2" y2="729.5" stroke-width="2.3"/>
<line x1="577.0" y1="769.5" x2="584.2" y2="728.4" stroke-width="2.3"/>
<line x1="577.0" y1="769.5" x2="575.9" y2="728.0" stroke-width="2.3"/>
<line x1="565.9" y1="769.2" x2="565.9" y2="727.8" stroke-width="2.3"/>
<line x1="557.6" y1="769.3" x2="554.9" y2="728.0" stroke-width="2.3"/>
<line x1="548.1" y1="769.8" x2="544.7" y2="728.5" stroke-width="2.3"/>
<line x1="535.2" y1="771.0" x2="532.5" y2="729.6" stroke-width="2.3"/>
<line x1="524.4" y1="772.5" x2="523.7" y2="730.8" stroke-width="2.3"/>
<line x1="524.4" y1="772.5" x2="515.6" y2="732.0" stroke-width="2.3"/>
<line x1="514.8" y1="774.3" x2="506.0" y2="733.9" stroke-width="2.3"/>
<line x1="506.0" y1="776.3" x2="496.6" y2="736.0" stroke-width="2.3"/>
<line x1="497.8" y1="778.4" x2="486.4" y2="738.7" stroke-width="2.3"/>
<line x1="487.8" y1="781.5" x2="475.1" y2="742.1" stroke-width="2.3"/>
<line x1="478.0" y1="784.9" x2="463.9" y2="746.0" stroke-width="2.3"/>
<line x1="470.0" y1="788.0" x2="454.3" y2="749.7" stroke-width="2.3"/>
<line x1="460.0" y1="792.4" x2="442.3" y2="755.0" stroke-width="2.3"/>
<line x1="450.2" y1="797.3" x2="431.2" y2="760.5" stroke-width="2.3"/>
<line x1="440.2" y1="802.8" x2="419.2" y2="767.1" stroke-width="2.3"/>
<line x1="429.2" y1="809.5" x2="407.1" y2="774.5" stroke-width="2.3"/>
<line x1="420.8" y1="815.2" x2="397.4" y2="781.1" stroke-width="2.3"/>
<line x1="412.5" y1="821.4" x2="388.8" y2="787.4" stroke-width="2.3"/>
<line x1="407.4" y1="825.4" x2="382.3" y2="792.5" stroke-width="2.3"/>
<line x1="401.2" y1="830.7" x2="373.0" y2="800.4" stroke-width="2.3"/>
<line x1="392.9" y1="838.3" x2="362.3" y2="810.3" stroke-width="2.3"/>
<line x1="384.3" y1="847.0" x2="354.4" y2="818.3" stroke-width="2.3"/>
<line x1="377.9" y1="854.0" x2="346.5" y2="827.1" stroke-width="2.3"/>
<line x1="372.4" y1="860.5" x2="340.0" y2="834.7" stroke-width="2.3"/>
<line x1="367.5" y1="866.7" x2="334.1" y2="842.2" stroke-width="2.3"/>
<line x1="367.5" y1="866.7" x2="327.7" y2="850.9" stroke-width="2.3"/>
<line x1="355.4" y1="884.0" x2="323.9" y2="856.4" stroke-width="2.3"/>
<line x1="355.4" y1="884.0" x2="319.7" y2="863.0" stroke-width="2.3"/>
<line x1="355.4" y1="884.0" x2="315.4" y2="869.9" stroke-width="2.3"/>
<line x1="345.9" y1="900.1" x2="313.0" y2="874.1" stroke-width="2.3"/>
<line x1="345.9" y1="900.1" x2="309.3" y2="880.8" stroke-width="2.3"/>
<line x1="341.2" y1="909.4" x2="303.7" y2="891.7" stroke-width="2.3"/>
<line x1="336.5" y1="919.6" x2="298.3" y2="903.6" stroke-width="2.3"/>
<line x1="332.6" y1="929.0" x2="293.5" y2="915.6" stroke-width="2.3"/>
<line x1="326.7" y1="946.4" x2="288.8" y2="928.9" stroke-width="2.3"/>
<line x1="326.7" y1="946.4" x2="286.4" y2="936.8" stroke-width="2.3"/>
<line x1="322.7" y1="961.4" x2="284.6" y2="943.3" stroke-width="2.3"/>
<line x1="322.7" y1="961.4" x2="282.3" y2="952.3" stroke-width="2.3"/>
<line x1="320.4" y1="972.3" x2="279.8" y2="964.4" stroke-width="2.3"/>
<line x1="318.8" y1="981.9" x2="277.8" y2="976.4" stroke-width="2.3"/>
<line x1="317.4" y1="993.9" x2="276.2" y2="989.1" stroke-width="2.3"/>
<line x1="316.7" y1="1002.3" x2="275.5" y2="998.1" stroke-width="2.3"/>
<line x1="316.3" y1="1010.8" x2="274.9" y2="1009.6" stroke-width="2.3"/>
<line x1="316.2" y1="1021.6" x2="274.8" y2="1021.0" stroke-width="2.3"/>
<line x1="316.5" y1="1030.1" x2="275.1" y2="1030.1" stroke-width="2.3"/>
<line x1="317.0" y1="1038.5" x2="275.5" y2="1038.5" stroke-width="2.3"/>
<line x1="317.6" y1="1043.9" x2="276.3" y2="1047.4" stroke-width="2.3"/>
<line x1="318.8" y1="1053.8" x2="277.8" y2="1059.7" stroke-width="2.3"/>
<line x1="321.6" y1="1069.5" x2="280.2" y2="1073.6" stroke-width="2.3"/>
<line x1="321.6" y1="1069.5" x2="282.7" y2="1085.4" stroke-width="2.3"/>
<line x1="324.6" y1="1082.1" x2="284.4" y2="1092.0" stroke-width="2.3"/>
<line x1="327.9" y1="1093.3" x2="287.6" y2="1103.2" stroke-width="2.3"/>
<line x1="330.1" y1="1100.1" x2="291.0" y2="1113.7" stroke-width="2.3"/>
<line x1="333.5" y1="1109.0" x2="294.7" y2="1123.5" stroke-width="2.3"/>
<line x1="338.9" y1="1121.8" x2="298.5" y2="1132.9" stroke-width="2.3"/>
<line x1="338.9" y1="1121.8" x2="302.7" y2="1142.2" stroke-width="2.3"/>
<line x1="346.1" y1="1136.3" x2="309.3" y2="1155.3" stroke-width="2.3"/>
<line x1="350.5" y1="1144.0" x2="314.5" y2="1164.6" stroke-width="2.3"/>
<line x1="355.2" y1="1151.8" x2="320.7" y2="1174.7" stroke-width="2.3"/>
<line x1="355.2" y1="1151.8" x2="326.3" y2="1183.1" stroke-width="2.3"/>
<line x1="366.4" y1="1167.9" x2="333.2" y2="1192.6" stroke-width="2.3"/>
<line x1="373.0" y1="1176.2" x2="341.0" y2="1202.5" stroke-width="2.3"/>
<line x1="377.8" y1="1181.9" x2="346.6" y2="1209.0" stroke-width="2.3"/>
<line x1="383.1" y1="1187.7" x2="353.3" y2="1216.5" stroke-width="2.3"/>
<line x1="389.1" y1="1194.0" x2="359.8" y2="1223.2" stroke-width="2.3"/>
<line x1="396.0" y1="1200.6" x2="368.2" y2="1231.2" stroke-width="2.3"/>
<line x1="403.4" y1="1207.2" x2="376.8" y2="1238.9" stroke-width="2.3"/>
<line x1="410.2" y1="1212.8" x2="385.8" y2="1246.2" stroke-width="2.3"/>
<line x1="419.9" y1="1220.1" x2="396.3" y2="1254.2" stroke-width="2.3"/>
<line x1="429.5" y1="1226.7" x2="406.6" y2="1261.2" stroke-width="2.3"/>
<line x1="437.5" y1="1231.7" x2="416.4" y2="1267.3" stroke-width="2.3"/>
<line x1="444.8" y1="1235.8" x2="426.2" y2="1272.9" stroke-width="2.3"/>
<line x1="456.6" y1="1242.0" x2="439.1" y2="1279.5" stroke-width="2.3"/>
<line x1="466.6" y1="1246.5" x2="449.1" y2="1284.1" stroke-width="2.3"/>
<line x1="478.2" y1="1251.2" x2="461.4" y2="1289.1" stroke-width="2.3"/>
<line x1="478.2" y1="1251.2" x2="467.4" y2="1291.3" stroke-width="2.3"/>
<line x1="487.4" y1="1254.4" x2="474.5" y2="1293.7" stroke-width="2.3"/>
<line x1="497.4" y1="1257.4" x2="485.7" y2="1297.1" stroke-width="2.3"/>
<line x1="508.6" y1="1260.3" x2="497.0" y2="1300.1" stroke-width="2.3"/>
<line x1="515.9" y1="1261.9" x2="507.4" y2="1302.4" stroke-width="2.3"/>
<line x1="527.0" y1="1263.9" x2="516.7" y2="1304.1" stroke-width="2.3"/>
<line x1="527.0" y1="1263.9" x2="523.8" y2="1305.3" stroke-width="2.3"/>
<line x1="536.4" y1="1265.1" x2="532.4" y2="1306.4" stroke-width="2.3"/>
<line x1="546.2" y1="1266.1" x2="543.6" y2="1307.4" stroke-width="2.3"/>
<line x1="556.1" y1="1266.6" x2="554.8" y2="1308.0" stroke-width="2.3"/>
<line x1="565.4" y1="1266.8" x2="566.0" y2="1308.2" stroke-width="2.3"/>
<line x1="577.3" y1="1266.5" x2="579.2" y2="1307.9" stroke-width="2.3"/>
<line x1="588.4" y1="1265.7" x2="592.4" y2="1306.9" stroke-width="2.3"/>
<line x1="599.1" y1="1264.5" x2="604.9" y2="1305.4" stroke-width="2.3"/>
<line x1="610.9" y1="1262.5" x2="618.1" y2="1303.3" stroke-width="2.3"/>
<line x1="621.4" y1="1260.3" x2="630.5" y2="1300.7" stroke-width="2.3"/>
<line x1="632.1" y1="1257.6" x2="643.8" y2="1297.3" stroke-width="2.3"/>
<line x1="643.8" y1="1254.0" x2="655.7" y2="1293.6" stroke-width="2.3"/>
<line x1="651.9" y1="1251.1" x2="665.6" y2="1290.2" stroke-width="2.3"/>
<line x1="659.9" y1="1248.0" x2="676.6" y2="1285.9" stroke-width="2.3"/>
<line x1="668.6" y1="1244.2" x2="687.2" y2="1281.2" stroke-width="2.3"/>
<line x1="678.4" y1="1239.4" x2="698.3" y2="1275.8" stroke-width="2.3"/>
<line x1="689.1" y1="1233.6" x2="710.4" y2="1269.1" stroke-width="2.3"/>
<line x1="699.1" y1="1227.6" x2="721.8" y2="1262.2" stroke-width="2.3"/>
<line x1="709.2" y1="1220.8" x2="733.6" y2="1254.2" stroke-width="2.3"/>
<line x1="719.4" y1="1213.1" x2="744.2" y2="1246.3" stroke-width="2.3"/>
<line x1="728.5" y1="1205.5" x2="754.7" y2="1237.6" stroke-width="2.3"/>
<line x1="734.6" y1="1200.0" x2="763.4" y2="1229.8" stroke-width="2.3"/>
<line x1="748.7" y1="1185.8" x2="773.6" y2="1219.7" stroke-width="2.3"/>
<line x1="748.7" y1="1185.8" x2="779.5" y2="1213.4" stroke-width="2.3"/>
<line x1="755.6" y1="1177.9" x2="787.2" y2="1204.7" stroke-width="2.3"/>
<line x1="762.9" y1="1168.8" x2="795.3" y2="1194.5" stroke-width="2.3"/>
<line x1="762.9" y1="1168.8" x2="799.5" y2="1189.0" stroke-width="2.3"/>
<line x1="771.1" y1="1157.3" x2="803.7" y2="1183.1" stroke-width="2.3"/>
<line x1="771.1" y1="1157.3" x2="808.7" y2="1175.6" stroke-width="2.3"/>
<line x1="778.0" y1="1146.5" x2="814.0" y2="1167.1" stroke-width="2.3"/>
<line x1="783.7" y1="1136.7" x2="820.3" y2="1156.1" stroke-width="2.3"/>
<line x1="789.2" y1="1125.9" x2="826.9" y2="1143.0" stroke-width="2.3"/>
<line x1="794.6" y1="1113.9" x2="832.6" y2="1130.2" stroke-width="2.3"/>
<line x1="757.0" y1="1097.3" x2="839.2" y2="1113.1" stroke-width="2.3"/>
<line x1="805.1" y1="1083.3" x2="842.3" y2="1103.5" stroke-width="2.3"/>
<line x1="805.1" y1="1083.3" x2="844.8" y2="1095.0" stroke-width="2.3"/>
<line x1="805.1" y1="1083.3" x2="847.0" y2="1086.7" stroke-width="2.3"/>
<line x1="765.7" y1="1071.5" x2="848.9" y2="1078.2" stroke-width="2.3"/>
<line x1="811.1" y1="1054.3" x2="850.4" y2="1070.5" stroke-width="2.3"/>
<line x1="811.1" y1="1054.3" x2="852.4" y2="1058.4" stroke-width="2.3"/>
<line x1="811.1" y1="1054.3" x2="853.6" y2="1048.7" stroke-width="2.3"/>
<line x1="813.5" y1="1030.6" x2="854.3" y2="1040.2" stroke-width="2.3"/>
<line x1="813.5" y1="1030.6" x2="854.9" y2="1031.8" stroke-width="2.3"/>
</g>
<path d="M688.64,747.96L697.38,728.86A318.00,318.00 0 0 0 687.21,724.42L679.14,743.81A297.00,297.00 0 0 1 688.64,747.96Z" fill="#00a000" fill-opacity="0.18" stroke="#00a000" stroke-opacity="0.22" stroke-width="1"/>
<path d="M750.70,1194.22L815.25,1255.48A345.00,345.00 0 0 0 824.19,1245.70L757.32,1186.96A256.00,256.00 0 0 1 750.70,1194.22Z" fill="#9400d3" fill-opacity="0.18" stroke="#9400d3" stroke-opacity="0.22" stroke-width="1"/>
<path d="M819.57,1059.92L905.42,1074.05A345.00,345.00 0 0 0 907.39,1060.34L821.05,1049.67A258.00,258.00 0 0 1 819.57,1059.92Z" fill="#e03030" fill-opacity="0.18" stroke="#e03030" stroke-opacity="0.22" stroke-width="1"/>
<path d="M856.25,1064.91L878.95,1068.57A318.00,318.00 0 0 0 880.73,1055.93L857.89,1053.18A295.00,295.00 0 0 1 856.25,1064.91Z" fill="#e03030" fill-opacity="0.18" stroke="#e03030" stroke-opacity="0.22" stroke-width="1"/>
<path d="M860.57,1033.88L908.50,1036.45A344.00,344.00 0 0 0 908.64,1033.75L860.69,1031.56A296.00,296.00 0 0 1 860.57,1033.88Z" fill="#0000ff" fill-opacity="0.18" stroke="#0000ff" stroke-opacity="0.22" stroke-width="1"/>
<line x1="811.1" y1="1054.3" x2="852.4" y2="1058.4" stroke="#000" stroke-width="7"/>
<line x1="811.1" y1="1054.3" x2="852.4" y2="1058.4" stroke="#e02a2a" stroke-width="4.6"/>
<g fill="#c4c000" stroke="#625e00" stroke-width="1.2">
<circle cx="855.2" cy="1014.9" r="5.3"/>
<circle cx="854.7" cy="1001.6" r="5.3"/>
<circle cx="854.0" cy="991.3" r="5.3"/>
<circle cx="852.8" cy="980.8" r="4.9"/>
<circle cx="850.8" cy="967.8" r="9.4"/>
<circle cx="849.8" cy="962.2" r="7.7"/>
<circle cx="847.6" cy="952.0" r="10.2"/>
<circle cx="844.5" cy="940.0" r="7.5"/>
<circle cx="842.1" cy="931.9" r="8.2"/>
<circle cx="839.4" cy="923.6" r="9.0"/>
<circle cx="836.4" cy="915.3" r="5.2"/>
<circle cx="831.6" cy="903.3" r="8.2"/>
<circle cx="828.8" cy="897.0" r="7.5"/>
<circle cx="821.5" cy="882.2" r="8.2"/>
<circle cx="814.9" cy="870.6" r="8.2"/>
<circle cx="808.4" cy="860.0" r="9.0"/>
<circle cx="802.5" cy="851.2" r="5.2"/>
<circle cx="795.0" cy="841.0" r="5.2"/>
<circle cx="786.8" cy="830.8" r="5.2"/>
<circle cx="778.2" cy="821.1" r="5.2"/>
<circle cx="770.5" cy="813.1" r="8.2"/>
<circle cx="762.2" cy="805.1" r="5.2"/>
<circle cx="755.4" cy="799.0" r="6.6"/>
<circle cx="748.1" cy="792.8" r="7.7"/>
<circle cx="739.1" cy="785.8" r="5.5"/>
<circle cx="729.9" cy="779.2" r="5.5"/>
<circle cx="720.2" cy="772.8" r="5.5"/>
<circle cx="710.6" cy="767.0" r="6.6"/>
<circle cx="704.8" cy="763.7" r="6.6"/>
<circle cx="697.9" cy="760.0" r="7.7"/>
<circle cx="688.5" cy="755.4" r="5.5"/>
<circle cx="672.4" cy="748.4" r="7.7"/>
<circle cx="660.3" cy="743.9" r="5.5"/>
<circle cx="650.6" cy="740.7" r="5.5"/>
<circle cx="636.3" cy="736.7" r="7.7"/>
<circle cx="622.6" cy="733.6" r="6.6"/>
<circle cx="614.4" cy="732.0" r="7.7"/>
<circle cx="605.3" cy="730.6" r="6.6"/>
<circle cx="596.2" cy="729.5" r="8.2"/>
<circle cx="584.2" cy="728.4" r="7.7"/>
<circle cx="575.9" cy="728.0" r="7.4"/>
<circle cx="565.9" cy="727.8" r="8.2"/>
<circle cx="554.9" cy="728.0" r="7.5"/>
<circle cx="544.7" cy="728.5" r="6.0"/>
<circle cx="532.5" cy="729.6" r="9.0"/>
<circle cx="523.7" cy="730.8" r="7.5"/>
<circle cx="515.6" cy="732.0" r="6.0"/>
<circle cx="506.0" cy="733.9" r="6.0"/>
<circle cx="496.6" cy="736.0" r="6.0"/>
<circle cx="486.4" cy="738.7" r="6.0"/>
<circle cx="475.1" cy="742.1" r="9.0"/>
<circle cx="463.9" cy="746.0" r="8.2"/>
<circle cx="454.3" cy="749.7" r="6.0"/>
<circle cx="442.3" cy="755.0" r="8.2"/>
<circle cx="431.2" cy="760.5" r="6.2"/>
<circle cx="419.2" cy="767.1" r="5.8"/>
<circle cx="407.1" cy="774.5" r="5.8"/>
<circle cx="397.4" cy="781.1" r="8.5"/>
<circle cx="388.8" cy="787.4" r="5.6"/>
<circle cx="382.3" cy="792.5" r="9.2"/>
<circle cx="373.0" cy="800.4" r="9.9"/>
<circle cx="362.3" cy="810.3" r="5.6"/>
<circle cx="354.4" cy="818.3" r="8.5"/>
<circle cx="346.5" cy="827.1" r="8.5"/>
<circle cx="340.0" cy="834.7" r="8.5"/>
<circle cx="334.1" cy="842.2" r="8.5"/>
<circle cx="327.7" cy="850.9" r="7.8"/>
<circle cx="323.9" cy="856.4" r="8.5"/>
<circle cx="319.7" cy="863.0" r="8.5"/>
<circle cx="315.4" cy="869.9" r="7.8"/>
<circle cx="313.0" cy="874.1" r="7.8"/>
<circle cx="309.3" cy="880.8" r="5.6"/>
<circle cx="303.7" cy="891.7" r="8.2"/>
<circle cx="298.3" cy="903.6" r="5.5"/>
<circle cx="293.5" cy="915.6" r="5.5"/>
<circle cx="288.8" cy="928.9" r="7.5"/>
<circle cx="286.4" cy="936.8" r="7.3"/>
<circle cx="284.6" cy="943.3" r="6.6"/>
<circle cx="282.3" cy="952.3" r="5.3"/>
<circle cx="279.8" cy="964.4" r="8.0"/>
<circle cx="277.8" cy="976.4" r="8.6"/>
<circle cx="276.2" cy="989.1" r="8.0"/>
<circle cx="275.5" cy="998.1" r="5.3"/>
<circle cx="274.9" cy="1009.6" r="5.3"/>
<circle cx="274.8" cy="1021.0" r="8.6"/>
<circle cx="275.1" cy="1030.1" r="7.3"/>
<circle cx="275.5" cy="1038.5" r="7.3"/>
<circle cx="276.3" cy="1047.4" r="7.3"/>
<circle cx="277.8" cy="1059.7" r="5.1"/>
<circle cx="280.2" cy="1073.6" r="8.0"/>
<circle cx="282.7" cy="1085.4" r="8.0"/>
<circle cx="284.4" cy="1092.0" r="5.1"/>
<circle cx="287.6" cy="1103.2" r="8.0"/>
<circle cx="291.0" cy="1113.7" r="8.7"/>
<circle cx="294.7" cy="1123.5" r="8.0"/>
<circle cx="298.5" cy="1132.9" r="8.0"/>
<circle cx="302.7" cy="1142.2" r="8.0"/>
<circle cx="309.3" cy="1155.3" r="8.0"/>
<circle cx="314.5" cy="1164.6" r="4.9"/>
<circle cx="320.7" cy="1174.7" r="7.4"/>
<circle cx="326.3" cy="1183.1" r="7.8"/>
<circle cx="333.2" cy="1192.6" r="5.2"/>
<circle cx="341.0" cy="1202.5" r="8.1"/>
<circle cx="346.6" cy="1209.0" r="4.9"/>
<circle cx="353.3" cy="1216.5" r="7.6"/>
<circle cx="359.8" cy="1223.2" r="7.6"/>
<circle cx="368.2" cy="1231.2" r="5.2"/>
<circle cx="376.8" cy="1238.9" r="7.6"/>
<circle cx="385.8" cy="1246.2" r="5.2"/>
<circle cx="396.3" cy="1254.2" r="9.0"/>
<circle cx="406.6" cy="1261.2" r="5.2"/>
<circle cx="416.4" cy="1267.3" r="5.2"/>
<circle cx="426.2" cy="1272.9" r="7.8"/>
<circle cx="439.1" cy="1279.5" r="5.2"/>
<circle cx="449.1" cy="1284.1" r="7.5"/>
<circle cx="461.4" cy="1289.1" r="6.5"/>
<circle cx="467.4" cy="1291.3" r="6.5"/>
<circle cx="474.5" cy="1293.7" r="8.0"/>
<circle cx="485.7" cy="1297.1" r="5.1"/>
<circle cx="497.0" cy="1300.1" r="8.0"/>
<circle cx="507.4" cy="1302.4" r="8.0"/>
<circle cx="516.7" cy="1304.1" r="5.8"/>
<circle cx="523.8" cy="1305.3" r="8.0"/>
<circle cx="532.4" cy="1306.4" r="8.0"/>
<circle cx="543.6" cy="1307.4" r="5.1"/>
<circle cx="554.8" cy="1308.0" r="5.1"/>
<circle cx="566.0" cy="1308.2" r="8.0"/>
<circle cx="579.2" cy="1307.9" r="8.0"/>
<circle cx="592.4" cy="1306.9" r="9.4"/>
<circle cx="604.9" cy="1305.4" r="8.0"/>
<circle cx="618.1" cy="1303.3" r="5.1"/>
<circle cx="630.5" cy="1300.7" r="5.1"/>
<circle cx="643.8" cy="1297.3" r="8.0"/>
<circle cx="655.7" cy="1293.6" r="8.0"/>
<circle cx="665.6" cy="1290.2" r="7.3"/>
<circle cx="676.6" cy="1285.9" r="7.3"/>
<circle cx="687.2" cy="1281.2" r="5.1"/>
<circle cx="698.3" cy="1275.8" r="8.0"/>
<circle cx="710.4" cy="1269.1" r="5.8"/>
<circle cx="721.8" cy="1262.2" r="5.8"/>
<circle cx="733.6" cy="1254.2" r="5.8"/>
<circle cx="744.2" cy="1246.3" r="8.7"/>
<circle cx="754.7" cy="1237.6" r="7.5"/>
<circle cx="763.4" cy="1229.8" r="9.0"/>
<circle cx="773.6" cy="1219.7" r="9.7"/>
<circle cx="779.5" cy="1213.4" r="6.0"/>
<circle cx="787.2" cy="1204.7" r="8.2"/>
<circle cx="795.3" cy="1194.5" r="7.5"/>
<circle cx="799.5" cy="1189.0" r="8.2"/>
<circle cx="803.7" cy="1183.1" r="8.2"/>
<circle cx="808.7" cy="1175.6" r="8.2"/>
<circle cx="814.0" cy="1167.1" r="8.2"/>
<circle cx="820.3" cy="1156.1" r="5.2"/>
<circle cx="826.9" cy="1143.0" r="5.2"/>
<circle cx="832.6" cy="1130.2" r="9.0"/>
<circle cx="839.2" cy="1113.1" r="8.2"/>
<circle cx="842.3" cy="1103.5" r="8.2"/>
<circle cx="844.8" cy="1095.0" r="8.1"/>
<circle cx="847.0" cy="1086.7" r="8.1"/>
<circle cx="848.9" cy="1078.2" r="8.1"/>
<circle cx="850.4" cy="1070.5" r="8.4"/>
<circle cx="853.6" cy="1048.7" r="10.0"/>
<circle cx="854.3" cy="1040.2" r="5.3"/>
<circle cx="854.9" cy="1031.8" r="5.3"/>
<circle cx="813.8" cy="1014.9" r="10.0"/>
<circle cx="813.4" cy="1004.0" r="8.0"/>
<circle cx="812.8" cy="995.6" r="8.0"/>
<circle cx="811.9" cy="987.0" r="8.0"/>
<circle cx="809.6" cy="972.5" r="9.5"/>
<circle cx="807.3" cy="961.6" r="10.2"/>
<circle cx="804.4" cy="950.3" r="7.7"/>
<circle cx="801.1" cy="939.5" r="8.1"/>
<circle cx="797.8" cy="930.2" r="8.2"/>
<circle cx="792.8" cy="918.0" r="8.2"/>
<circle cx="785.0" cy="901.8" r="8.2"/>
<circle cx="778.7" cy="890.6" r="9.0"/>
<circle cx="773.9" cy="882.9" r="8.2"/>
<circle cx="768.8" cy="875.3" r="5.2"/>
<circle cx="762.2" cy="866.3" r="9.0"/>
<circle cx="755.4" cy="857.8" r="8.0"/>
<circle cx="747.2" cy="848.6" r="7.6"/>
<circle cx="740.4" cy="841.5" r="7.6"/>
<circle cx="729.4" cy="831.3" r="7.6"/>
<circle cx="722.7" cy="825.6" r="8.0"/>
<circle cx="714.3" cy="818.9" r="6.0"/>
<circle cx="706.0" cy="813.0" r="8.3"/>
<circle cx="697.6" cy="807.5" r="5.5"/>
<circle cx="686.8" cy="801.1" r="8.8"/>
<circle cx="680.3" cy="797.5" r="7.7"/>
<circle cx="670.6" cy="792.7" r="8.2"/>
<circle cx="656.6" cy="786.7" r="7.7"/>
<circle cx="646.8" cy="783.0" r="5.5"/>
<circle cx="637.0" cy="779.9" r="7.2"/>
<circle cx="626.4" cy="776.9" r="8.2"/>
<circle cx="606.0" cy="772.6" r="8.8"/>
<circle cx="591.7" cy="770.6" r="8.2"/>
<circle cx="577.0" cy="769.5" r="8.0"/>
<circle cx="565.9" cy="769.2" r="8.0"/>
<circle cx="557.6" cy="769.3" r="8.2"/>
<circle cx="548.1" cy="769.8" r="8.2"/>
<circle cx="535.2" cy="771.0" r="8.2"/>
<circle cx="524.4" cy="772.5" r="8.2"/>
<circle cx="514.8" cy="774.3" r="8.2"/>
<circle cx="506.0" cy="776.3" r="8.2"/>
<circle cx="497.8" cy="778.4" r="8.2"/>
<circle cx="487.8" cy="781.5" r="8.2"/>
<circle cx="478.0" cy="784.9" r="8.2"/>
<circle cx="470.0" cy="788.0" r="6.0"/>
<circle cx="460.0" cy="792.4" r="8.2"/>
<circle cx="450.2" cy="797.3" r="6.0"/>
<circle cx="440.2" cy="802.8" r="5.8"/>
<circle cx="429.2" cy="809.5" r="5.8"/>
<circle cx="420.8" cy="815.2" r="8.7"/>
<circle cx="412.5" cy="821.4" r="8.3"/>
<circle cx="407.4" cy="825.4" r="7.8"/>
<circle cx="401.2" cy="830.7" r="9.1"/>
<circle cx="392.9" cy="838.3" r="8.5"/>
<circle cx="384.3" cy="847.0" r="8.5"/>
<circle cx="377.9" cy="854.0" r="8.5"/>
<circle cx="372.4" cy="860.5" r="8.5"/>
<circle cx="367.5" cy="866.7" r="9.2"/>
<circle cx="355.4" cy="884.0" r="9.2"/>
<circle cx="345.9" cy="900.1" r="7.9"/>
<circle cx="341.2" cy="909.4" r="7.9"/>
<circle cx="336.5" cy="919.6" r="5.5"/>
<circle cx="332.6" cy="929.0" r="7.5"/>
<circle cx="326.7" cy="946.4" r="8.0"/>
<circle cx="322.7" cy="961.4" r="8.0"/>
<circle cx="320.4" cy="972.3" r="7.3"/>
<circle cx="318.8" cy="981.9" r="8.6"/>
<circle cx="317.4" cy="993.9" r="8.0"/>
<circle cx="316.7" cy="1002.3" r="7.3"/>
<circle cx="316.3" cy="1010.8" r="8.0"/>
<circle cx="316.2" cy="1021.6" r="8.6"/>
<circle cx="316.5" cy="1030.1" r="7.3"/>
<circle cx="317.0" cy="1038.5" r="7.3"/>
<circle cx="317.6" cy="1043.9" r="8.0"/>
<circle cx="318.8" cy="1053.8" r="8.7"/>
<circle cx="321.6" cy="1069.5" r="9.4"/>
<circle cx="324.6" cy="1082.1" r="8.7"/>
<circle cx="327.9" cy="1093.3" r="8.0"/>
<circle cx="330.1" cy="1100.1" r="8.0"/>
<circle cx="333.5" cy="1109.0" r="8.0"/>
<circle cx="338.9" cy="1121.8" r="9.4"/>
<circle cx="346.1" cy="1136.3" r="8.0"/>
<circle cx="350.5" cy="1144.0" r="7.3"/>
<circle cx="355.2" cy="1151.8" r="8.0"/>
<circle cx="366.4" cy="1167.9" r="7.8"/>
<circle cx="373.0" cy="1176.2" r="7.5"/>
<circle cx="377.8" cy="1181.9" r="7.8"/>
<circle cx="383.1" cy="1187.7" r="7.5"/>
<circle cx="389.1" cy="1194.0" r="7.1"/>
<circle cx="396.0" cy="1200.6" r="5.2"/>
<circle cx="403.4" cy="1207.2" r="7.6"/>
<circle cx="410.2" cy="1212.8" r="7.0"/>
<circle cx="419.9" cy="1220.1" r="8.7"/>
<circle cx="429.5" cy="1226.7" r="7.8"/>
<circle cx="437.5" cy="1231.7" r="7.0"/>
<circle cx="444.8" cy="1235.8" r="7.5"/>
<circle cx="456.6" cy="1242.0" r="8.0"/>
<circle cx="466.6" cy="1246.5" r="8.0"/>
<circle cx="478.2" cy="1251.2" r="7.3"/>
<circle cx="487.4" cy="1254.4" r="8.0"/>
<circle cx="497.4" cy="1257.4" r="9.4"/>
<circle cx="508.6" cy="1260.3" r="7.3"/>
<circle cx="515.9" cy="1261.9" r="7.3"/>
<circle cx="527.0" cy="1263.9" r="8.0"/>
<circle cx="536.4" cy="1265.1" r="8.0"/>
<circle cx="546.2" cy="1266.1" r="8.7"/>
<circle cx="556.1" cy="1266.6" r="7.3"/>
<circle cx="565.4" cy="1266.8" r="8.0"/>
<circle cx="577.3" cy="1266.5" r="8.0"/>
<circle cx="588.4" cy="1265.7" r="8.0"/>
<circle cx="599.1" cy="1264.5" r="8.0"/>
<circle cx="610.9" cy="1262.5" r="5.1"/>
<circle cx="621.4" cy="1260.3" r="5.1"/>
<circle cx="632.1" cy="1257.6" r="7.3"/>
<circle cx="643.8" cy="1254.0" r="8.0"/>
<circle cx="651.9" cy="1251.1" r="7.3"/>
<circle cx="659.9" cy="1248.0" r="7.3"/>
<circle cx="668.6" cy="1244.2" r="8.0"/>
<circle cx="678.4" cy="1239.4" r="8.0"/>
<circle cx="689.1" cy="1233.6" r="8.0"/>
<circle cx="699.1" cy="1227.6" r="7.7"/>
<circle cx="709.2" cy="1220.8" r="8.5"/>
<circle cx="719.4" cy="1213.1" r="8.1"/>
<circle cx="728.5" cy="1205.5" r="7.3"/>
<circle cx="734.6" cy="1200.0" r="8.1"/>
<circle cx="755.6" cy="1177.9" r="8.2"/>
<circle cx="762.9" cy="1168.8" r="7.5"/>
<circle cx="771.1" cy="1157.3" r="9.7"/>
<circle cx="778.0" cy="1146.5" r="8.2"/>
<circle cx="783.7" cy="1136.7" r="8.2"/>
<circle cx="789.2" cy="1125.9" r="5.2"/>
<circle cx="794.6" cy="1113.9" r="9.0"/>
<circle cx="805.1" cy="1083.3" r="9.8"/>
<circle cx="772.7" cy="1015.5" r="10.0"/>
<circle cx="771.6" cy="996.7" r="9.3"/>
<circle cx="768.9" cy="978.4" r="10.0"/>
<circle cx="767.2" cy="970.5" r="10.5"/>
<circle cx="758.9" cy="943.7" r="10.2"/>
<circle cx="748.5" cy="920.7" r="8.2"/>
<circle cx="743.9" cy="912.5" r="9.0"/>
<circle cx="735.8" cy="899.8" r="8.2"/>
<circle cx="729.6" cy="891.4" r="8.2"/>
<circle cx="725.3" cy="886.0" r="8.8"/>
<circle cx="722.3" cy="882.4" r="8.2"/>
<circle cx="717.3" cy="876.8" r="8.1"/>
<circle cx="711.7" cy="870.9" r="7.9"/>
<circle cx="699.5" cy="859.8" r="8.8"/>
<circle cx="689.1" cy="851.4" r="8.2"/>
<circle cx="675.7" cy="842.3" r="8.2"/>
<circle cx="654.0" cy="830.4" r="11.6"/>
<circle cx="634.0" cy="822.1" r="8.8"/>
<circle cx="626.3" cy="819.6" r="8.8"/>
<circle cx="615.9" cy="816.6" r="8.8"/>
<circle cx="581.2" cy="810.9" r="9.9"/>
<circle cx="542.6" cy="811.5" r="9.7"/>
<circle cx="520.9" cy="815.0" r="9.0"/>
<circle cx="512.4" cy="817.1" r="8.2"/>
<circle cx="500.8" cy="820.5" r="9.0"/>
<circle cx="489.8" cy="824.4" r="8.2"/>
<circle cx="477.1" cy="829.8" r="8.2"/>
<circle cx="470.2" cy="833.2" r="7.5"/>
<circle cx="460.8" cy="838.3" r="8.2"/>
<circle cx="450.2" cy="844.9" r="8.3"/>
<circle cx="442.5" cy="850.2" r="8.3"/>
<circle cx="434.7" cy="856.2" r="8.2"/>
<circle cx="428.3" cy="861.6" r="8.7"/>
<circle cx="421.1" cy="868.2" r="8.3"/>
<circle cx="414.2" cy="875.2" r="8.3"/>
<circle cx="406.6" cy="883.7" r="8.2"/>
<circle cx="403.6" cy="887.3" r="9.2"/>
<circle cx="389.5" cy="906.8" r="9.2"/>
<circle cx="382.6" cy="918.6" r="8.2"/>
<circle cx="378.6" cy="926.5" r="8.2"/>
<circle cx="374.1" cy="936.1" r="7.3"/>
<circle cx="370.6" cy="945.0" r="8.0"/>
<circle cx="365.7" cy="959.5" r="8.0"/>
<circle cx="362.7" cy="970.9" r="8.0"/>
<circle cx="360.8" cy="979.9" r="7.3"/>
<circle cx="359.4" cy="988.4" r="8.6"/>
<circle cx="357.9" cy="1002.3" r="8.0"/>
<circle cx="357.4" cy="1011.4" r="7.3"/>
<circle cx="357.7" cy="1031.3" r="10.0"/>
<circle cx="359.3" cy="1046.8" r="8.7"/>
<circle cx="366.0" cy="1077.5" r="10.2"/>
<circle cx="381.1" cy="1114.5" r="10.9"/>
<circle cx="392.4" cy="1133.6" r="8.7"/>
<circle cx="399.2" cy="1143.1" r="8.7"/>
<circle cx="413.5" cy="1160.1" r="9.1"/>
<circle cx="423.4" cy="1170.0" r="8.1"/>
<circle cx="430.6" cy="1176.4" r="8.0"/>
<circle cx="442.8" cy="1185.9" r="8.1"/>
<circle cx="450.5" cy="1191.3" r="7.2"/>
<circle cx="465.1" cy="1200.1" r="8.0"/>
<circle cx="474.2" cy="1204.8" r="8.0"/>
<circle cx="482.0" cy="1208.4" r="8.0"/>
<circle cx="496.5" cy="1214.1" r="8.7"/>
<circle cx="508.4" cy="1217.8" r="9.4"/>
<circle cx="526.4" cy="1222.1" r="9.4"/>
<circle cx="540.9" cy="1224.3" r="8.0"/>
<circle cx="549.5" cy="1225.1" r="8.7"/>
<circle cx="558.8" cy="1225.6" r="7.3"/>
<circle cx="575.3" cy="1225.4" r="8.7"/>
<circle cx="584.4" cy="1224.8" r="7.3"/>
<circle cx="593.8" cy="1223.7" r="8.0"/>
<circle cx="611.7" cy="1220.4" r="8.0"/>
<circle cx="622.3" cy="1217.7" r="7.3"/>
<circle cx="634.8" cy="1213.6" r="8.7"/>
<circle cx="643.4" cy="1210.3" r="8.0"/>
<circle cx="651.3" cy="1206.9" r="8.0"/>
<circle cx="660.1" cy="1202.7" r="8.0"/>
<circle cx="668.1" cy="1198.3" r="8.0"/>
<circle cx="676.3" cy="1193.3" r="7.3"/>
<circle cx="685.6" cy="1187.1" r="8.0"/>
<circle cx="694.5" cy="1180.4" r="8.1"/>
<circle cx="705.5" cy="1171.0" r="8.8"/>
<circle cx="717.0" cy="1159.6" r="9.2"/>
<circle cx="723.3" cy="1152.5" r="8.1"/>
<circle cx="735.2" cy="1137.0" r="9.7"/>
<circle cx="742.6" cy="1125.8" r="8.2"/>
<circle cx="747.4" cy="1117.3" r="8.2"/>
<circle cx="752.6" cy="1107.2" r="9.0"/>
<circle cx="757.0" cy="1097.3" r="9.1"/>
<circle cx="765.7" cy="1071.5" r="9.8"/>
<circle cx="771.9" cy="1036.7" r="12.6"/>
<circle cx="731.4" cy="1014.5" r="8.5"/>
<circle cx="730.5" cy="1000.6" r="8.0"/>
<circle cx="721.7" cy="961.9" r="10.0"/>
<circle cx="703.8" cy="926.2" r="8.5"/>
<circle cx="696.5" cy="916.0" r="8.5"/>
<circle cx="692.1" cy="910.6" r="8.5"/>
<circle cx="651.4" cy="875.8" r="10.5"/>
<circle cx="606.1" cy="856.8" r="9.0"/>
<circle cx="569.9" cy="851.7" r="11.0"/>
<circle cx="515.8" cy="859.0" r="9.0"/>
<circle cx="489.5" cy="869.7" r="8.0"/>
<circle cx="481.0" cy="874.3" r="8.0"/>
<circle cx="462.6" cy="886.9" r="10.0"/>
<circle cx="429.0" cy="922.1" r="9.0"/>
<circle cx="412.5" cy="951.4" r="8.5"/>
<circle cx="408.6" cy="961.1" r="8.5"/>
<circle cx="405.0" cy="972.1" r="8.5"/>
<circle cx="403.0" cy="980.0" r="8.5"/>
<circle cx="400.5" cy="992.8" r="9.0"/>
<circle cx="404.3" cy="1061.1" r="10.5"/>
<circle cx="432.3" cy="1118.4" r="8.0"/>
<circle cx="449.8" cy="1138.1" r="9.5"/>
<circle cx="467.9" cy="1153.1" r="9.0"/>
<circle cx="481.5" cy="1162.0" r="8.5"/>
<circle cx="529.8" cy="1180.6" r="9.5"/>
<circle cx="572.5" cy="1184.2" r="8.0"/>
<circle cx="579.8" cy="1183.7" r="8.0"/>
<circle cx="587.3" cy="1182.9" r="8.0"/>
<circle cx="595.0" cy="1181.7" r="8.0"/>
<circle cx="602.4" cy="1180.1" r="8.0"/>
<circle cx="610.9" cy="1178.0" r="8.0"/>
<circle cx="621.1" cy="1174.7" r="8.5"/>
<circle cx="630.0" cy="1171.2" r="8.5"/>
<circle cx="638.7" cy="1167.2" r="8.0"/>
<circle cx="646.4" cy="1163.1" r="8.0"/>
<circle cx="654.4" cy="1158.3" r="8.0"/>
<circle cx="661.9" cy="1153.3" r="8.5"/>
<circle cx="669.5" cy="1147.5" r="8.0"/>
<circle cx="678.1" cy="1140.1" r="8.0"/>
<circle cx="689.6" cy="1128.3" r="9.0"/>
<circle cx="703.1" cy="1110.8" r="9.5"/>
<circle cx="711.2" cy="1097.4" r="8.0"/>
<circle cx="715.3" cy="1089.4" r="8.0"/>
<circle cx="718.8" cy="1081.4" r="8.0"/>
<circle cx="725.9" cy="1060.5" r="8.0"/>
<circle cx="730.5" cy="1035.4" r="8.5"/>
<circle cx="690.0" cy="1016.9" r="9.0"/>
<circle cx="661.6" cy="938.7" r="10.5"/>
<circle cx="570.7" cy="893.1" r="10.0"/>
<circle cx="523.3" cy="900.2" r="9.5"/>
<circle cx="501.7" cy="910.2" r="7.5"/>
<circle cx="487.4" cy="920.0" r="9.5"/>
<circle cx="462.9" cy="945.9" r="9.5"/>
<circle cx="447.5" cy="1060.5" r="11.0"/>
<circle cx="568.9" cy="1142.9" r="9.5"/>
<circle cx="637.8" cy="1119.6" r="8.0"/>
<circle cx="642.0" cy="1116.5" r="8.0"/>
<circle cx="649.9" cy="1109.7" r="8.0"/>
<circle cx="666.6" cy="1090.8" r="10.0"/>
<circle cx="677.3" cy="1072.8" r="8.5"/>
<circle cx="680.9" cy="1064.8" r="8.5"/>
<circle cx="685.7" cy="1050.4" r="9.0"/>
<circle cx="689.1" cy="1032.8" r="11.0"/>
<circle cx="519.9" cy="947.7" r="10.0"/>
<circle cx="595.3" cy="1095.8" r="9.5"/>
<circle cx="648.2" cy="1024.6" r="12.3"/>
<circle cx="645.8" cy="1039.2" r="9.5"/>
<circle cx="523.4" cy="1018.0" r="9.5"/>
</g>
<circle cx="565.0" cy="1018.0" r="2.4" fill="#c8c400"/>
<circle cx="681.2" cy="752.1" r="7.4" fill="#00a000" stroke="#000" stroke-width="1.6"/>
<circle cx="748.7" cy="1185.8" r="8.1" fill="#9400d3" stroke="#000" stroke-width="1.6"/>
<circle cx="811.1" cy="1054.3" r="10.0" fill="#e02a2a" stroke="#000" stroke-width="1.6"/>
<circle cx="852.4" cy="1058.4" r="9.8" fill="#e02a2a" stroke="#000" stroke-width="1.6"/>
<circle cx="813.5" cy="1030.6" r="9.8" fill="#0000ff" stroke="#000" stroke-width="1.6"/>
<text x="686.9" y="738.9" transform="rotate(23.6 686.9 738.9)" font-family="Liberation Serif, serif" font-size="10" fill="#005000" text-anchor="middle" dominant-baseline="central">a</text>
<text x="810.3" y="1242.0" transform="rotate(-227.6 810.3 1242.0)" font-family="Liberation Serif, serif" font-size="10" fill="#c000c0" text-anchor="middle" dominant-baseline="central">b</text>
<text x="893.8" y="1065.4" transform="rotate(-261.8 893.8 1065.4)" font-family="Liberation Serif, serif" font-size="10" fill="#8b1a1a" text-anchor="middle" dominant-baseline="central">d</text>
<text x="867.3" y="1060.5" transform="rotate(-262.0 867.3 1060.5)" font-family="Liberation Serif, serif" font-size="10" fill="#8b1a1a" text-anchor="middle" dominant-baseline="central">c</text>
<text x="895.3" y="1034.4" transform="rotate(-267.1 895.3 1034.4)" font-family="Liberation Serif, serif" font-size="10" fill="#1a1a8b" text-anchor="middle" dominant-baseline="central">e</text>
</g>
</svg>
</body></html>
